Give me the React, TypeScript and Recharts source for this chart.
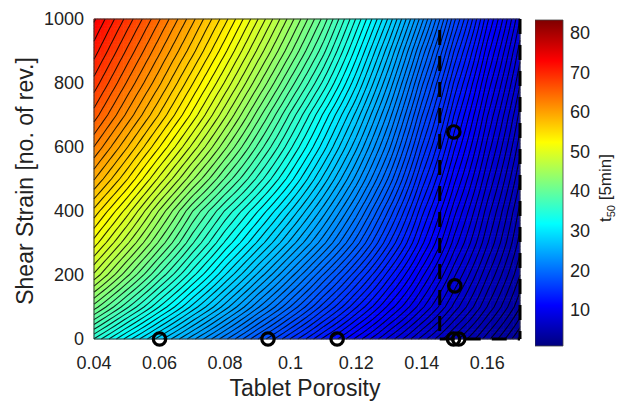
import React from 'react';
import { ComposedChart, BarChart, Bar, Scatter, Line, XAxis, YAxis, ReferenceArea } from 'recharts';

// t50 (in 5 min units) over tablet porosity (columns) and shear strain (rows)
const porosity = [0.04, 0.05, 0.06, 0.07, 0.08, 0.09, 0.1, 0.11, 0.12, 0.13, 0.14, 0.15, 0.16, 0.17];
const shearStrain = [0, 100, 200, 300, 400, 500, 600, 700, 800, 900, 1000];
const t50 = [
  [35.0, 31.0, 27.4, 24.1, 21.0, 18.0, 15.3, 12.8, 10.6, 8.6, 6.8, 5.2, 3.8, 2.5],
  [41.5, 37.2, 33.1, 29.3, 25.8, 22.4, 19.3, 16.3, 13.6, 11.1, 8.9, 6.8, 5.0, 3.4],
  [47.1, 42.3, 37.7, 33.5, 29.6, 26.0, 22.6, 19.3, 16.2, 13.2, 10.4, 7.9, 5.8, 4.0],
  [51.3, 46.5, 41.7, 37.1, 33.0, 29.4, 25.9, 22.5, 19.0, 15.4, 12.0, 9.0, 6.6, 4.5],
  [55.0, 50.2, 45.0, 40.0, 35.9, 32.3, 28.7, 25.0, 21.2, 17.2, 13.2, 9.9, 7.2, 4.9],
  [59.1, 54.3, 49.2, 44.3, 39.8, 35.7, 31.7, 27.6, 23.5, 19.2, 14.6, 10.9, 7.9, 5.4],
  [62.7, 57.9, 53.0, 48.1, 43.3, 38.7, 34.3, 30.0, 25.6, 21.0, 16.0, 11.9, 8.6, 5.9],
  [66.0, 61.2, 56.4, 51.5, 46.5, 41.5, 36.7, 32.1, 27.6, 22.7, 17.4, 12.9, 9.3, 6.4],
  [68.7, 63.9, 59.2, 54.3, 49.4, 44.4, 39.5, 34.8, 29.8, 24.5, 18.9, 14.0, 10.1, 7.0],
  [71.2, 66.4, 61.7, 57.0, 52.1, 47.1, 42.2, 37.3, 31.9, 26.4, 20.6, 15.3, 11.0, 7.6],
  [73.5, 68.8, 64.1, 59.4, 54.6, 49.6, 44.6, 39.6, 34.0, 28.5, 22.6, 16.8, 12.0, 8.3],
];

// measured tablets
const samplePorosity = [0.06, 0.0931, 0.1142, 0.1497, 0.1513, 0.1501, 0.1498];
const sampleStrain = [0, 0, 0, 0, 0, 166, 647];

// dashed window of the process space
const windowPorosity = [0.1455, 0.17];

const xTicks = [0.04, 0.06, 0.08, 0.1, 0.12, 0.14, 0.16];
const yTicks = [0, 200, 400, 600, 800, 1000];
const barTicks = [10, 20, 30, 40, 50, 60, 70, 80];

const P_MIN = 0.04;
const P_MAX = 0.17;
const S_MIN = 0;
const S_MAX = 1000;
const T_MIN = 0.86;
const T_MAX = 83.2;

const PLOT_W = 426;
const PLOT_H = 320;
const NX = 130;
const NY = 100;
const ROW_STEP = 10;

// contour levels are evenly spaced on a square-root scale
const LEVEL_ROOT_STEP = 0.08;

const FONT = '"Liberation Sans", Arial, Helvetica, sans-serif';
const TEXT = '#222';

const jet = (v: number) => {
  const f = Math.min(1, Math.max(0, (v - T_MIN) / (T_MAX - T_MIN)));
  const ch = (c: number) => Math.round(255 * Math.min(1, Math.max(0, 1.5 - Math.abs(4 * f - c))));
  return `rgb(${ch(3)},${ch(2)},${ch(1)})`;
};

const bracket = (arr: number[], v: number) => {
  let i = 0;
  while (i < arr.length - 2 && v > arr[i + 1]) i++;
  return i;
};

const t50At = (p: number, s: number) => {
  const i = bracket(porosity, p);
  const j = bracket(shearStrain, s);
  const u = (p - porosity[i]) / (porosity[i + 1] - porosity[i]);
  const w = (s - shearStrain[j]) / (shearStrain[j + 1] - shearStrain[j]);
  const lo = t50[j][i] * (1 - u) + t50[j][i + 1] * u;
  const hi = t50[j + 1][i] * (1 - u) + t50[j + 1][i + 1] * u;
  return lo * (1 - w) + hi * w;
};

const crossing = (xs: number[], vs: number[], level: number) => {
  for (let k = 0; k < xs.length - 1; k++) {
    const a = vs[k];
    const b = vs[k + 1];
    if (a !== b && (a - level) * (b - level) <= 0) {
      return xs[k] + ((level - a) / (b - a)) * (xs[k + 1] - xs[k]);
    }
  }
  return null;
};

// iso-line of one t50 level, walked upward in shear strain
const contour = (level: number) => {
  const pts: { p: number; s: number }[] = [];
  for (let s = S_MIN; s <= S_MAX; s += ROW_STEP) {
    const p = crossing(porosity, porosity.map((x) => t50At(x, s)), level);
    if (p !== null) pts.push({ p, s });
  }
  for (const edge of [P_MIN, P_MAX]) {
    const s = crossing(shearStrain, shearStrain.map((y) => t50At(edge, y)), level);
    if (s !== null) pts.push({ p: edge, s });
  }
  return pts.sort((m, n) => m.s - n.s);
};

const levels: number[] = [];
for (let k = 1; (k * LEVEL_ROOT_STEP) ** 2 <= T_MAX; k++) {
  const level = (k * LEVEL_ROOT_STEP) ** 2;
  if (level >= T_MIN) levels.push(level);
}
const contours = levels.map(contour).filter((c) => c.length > 1);

const heatCells: { p: number; s: number; fill: string }[] = [];
for (let j = 0; j < NY; j++) {
  for (let i = 0; i < NX; i++) {
    const p = P_MIN + ((i + 0.5) * (P_MAX - P_MIN)) / NX;
    const s = S_MIN + ((j + 0.5) * (S_MAX - S_MIN)) / NY;
    heatCells.push({ p, s, fill: jet(t50At(p, s)) });
  }
}

const samples = samplePorosity.map((p, k) => ({ p, s: sampleStrain[k] }));

const CELL_W = PLOT_W / NX + 0.6;
const CELL_H = PLOT_H / NY + 0.6;

const HeatCell = (props: any) => (
  <rect
    x={props.cx - CELL_W / 2}
    y={props.cy - CELL_H / 2}
    width={CELL_W}
    height={CELL_H}
    fill={props.payload.fill}
  />
);

const Ring = (props: any) => (
  <circle cx={props.cx} cy={props.cy} r={6.2} fill="none" stroke="#000" strokeWidth={3.2} />
);

const strainLabel = (props: any) => {
  const { x, y, height } = props.viewBox;
  const cx = x + 33;
  const cy = y + height / 2 + 2;
  return (
    <text x={cx} y={cy} transform={`rotate(-90 ${cx} ${cy})`} textAnchor="middle" fontSize={23} fill={TEXT}>
      Shear Strain [no. of rev.]
    </text>
  );
};

const porosityLabel = (props: any) => {
  const { x, y, width } = props.viewBox;
  return (
    <text x={x + width / 2 - 2} y={y + 57} textAnchor="middle" fontSize={23} fill={TEXT}>
      Tablet Porosity
    </text>
  );
};

const t50Label = (props: any) => {
  const { x, y, height } = props.viewBox;
  const cx = x + 48;
  const cy = y + height / 2 + 5;
  return (
    <text x={cx} y={cy} transform={`rotate(-90 ${cx} ${cy})`} textAnchor="middle" fontSize={17} fill={TEXT}>
      t<tspan fontSize={11} dy={4}>50</tspan>
      <tspan dy={-4}> [5min]</tspan>
    </text>
  );
};

const jetStops = [
  { offset: 0, color: '#00007f' },
  { offset: 0.125, color: '#0000ff' },
  { offset: 0.375, color: '#00ffff' },
  { offset: 0.625, color: '#ffff00' },
  { offset: 0.875, color: '#ff0000' },
  { offset: 1, color: '#7f0000' },
];

const App = () => (
  <div
    style={{
      position: 'absolute',
      left: 0,
      top: 0,
      width: 620,
      height: 404,
      background: '#fff',
      fontFamily: FONT,
    }}
  >
    <ComposedChart width={620} height={404} margin={{ top: 19, right: 100, bottom: 0, left: 0 }}>
      <XAxis
        type="number"
        dataKey="p"
        domain={[P_MIN, P_MAX]}
        ticks={xTicks}
        tickFormatter={(v: number) => String(v)}
        height={65}
        axisLine={false}
        tickLine={false}
        tickSize={6}
        tickMargin={11}
        tick={{ fontSize: 18, fill: TEXT }}
        label={porosityLabel}
      />
      <YAxis
        type="number"
        dataKey="s"
        domain={[S_MIN, S_MAX]}
        ticks={yTicks}
        width={94}
        axisLine={false}
        tickLine={false}
        tickSize={6}
        tickMargin={4}
        tick={{ fontSize: 18, fill: TEXT }}
        label={strainLabel}
      />
      <Scatter data={heatCells} shape={HeatCell} isAnimationActive={false} zIndex={50} />
      {contours.map((pts, k) => (
        <Line
          key={`iso-${k}`}
          data={pts}
          dataKey="s"
          type="linear"
          stroke="#000"
          strokeWidth={1.05}
          strokeOpacity={0.85}
          dot={false}
          activeDot={false}
          isAnimationActive={false}
          zIndex={60}
        />
      ))}
      <ReferenceArea
        x1={P_MIN}
        x2={P_MAX}
        y1={S_MIN}
        y2={S_MAX}
        fill="none"
        stroke="#333"
        strokeWidth={1}
        zIndex={70}
      />
      {windowPorosity.map((p) => (
        <Line
          key={`win-${p}`}
          data={[{ p, s: S_MAX }, { p, s: S_MIN }]}
          dataKey="s"
          stroke="#000"
          strokeWidth={3}
          strokeDasharray="15 11"
          strokeDashoffset={p < P_MAX ? 15 : 0}
          dot={false}
          activeDot={false}
          isAnimationActive={false}
          zIndex={80}
        />
      ))}
      <Line
        data={[{ p: windowPorosity[0], s: S_MIN }, { p: windowPorosity[1], s: S_MIN }]}
        dataKey="s"
        stroke="#000"
        strokeWidth={3}
        strokeDasharray="15 11"
        dot={false}
        activeDot={false}
        isAnimationActive={false}
        zIndex={80}
      />
      <Scatter data={samples} shape={Ring} isAnimationActive={false} zIndex={90} />
    </ComposedChart>

    <div style={{ position: 'absolute', left: 535, top: 0 }}>
      <BarChart
        width={85}
        height={404}
        data={[{ name: 't50', span: [T_MIN, T_MAX] }]}
        margin={{ top: 20, right: 0, bottom: 58, left: 0 }}
        barCategoryGap={0}
      >
        <defs>
          <linearGradient id="jetBar" x1="0" y1="1" x2="0" y2="0">
            {jetStops.map((st) => (
              <stop key={st.offset} offset={st.offset} stopColor={st.color} />
            ))}
          </linearGradient>
        </defs>
        <XAxis dataKey="name" hide />
        <YAxis
          orientation="right"
          type="number"
          domain={[T_MIN, T_MAX]}
          ticks={barTicks}
          width={57}
          axisLine={false}
          tickLine={false}
          tickSize={3}
          tickMargin={4}
          tick={{ fontSize: 18, fill: TEXT }}
          label={t50Label}
        />
        <Bar dataKey="span" fill="url(#jetBar)" stroke="#444" strokeWidth={0.8} isAnimationActive={false} />
      </BarChart>
    </div>
  </div>
);

export default App;
